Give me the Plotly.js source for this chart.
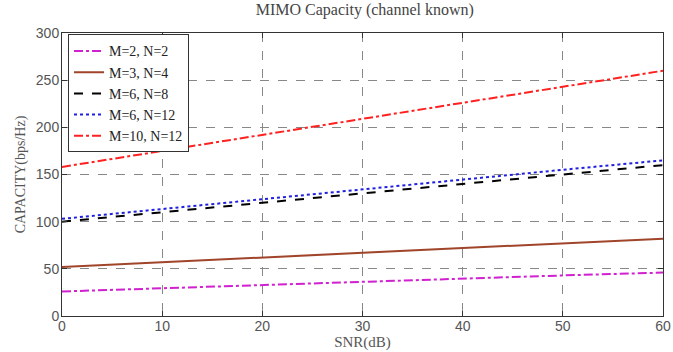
<!DOCTYPE html>
<html>
<head>
<meta charset="utf-8">
<script src="https://cdn.plot.ly/plotly-3.0.1.min.js"></script>
<style>html,body{margin:0;padding:0;background:#fff;}#chart{width:673px;height:352px;}</style>
</head>
<body>
<div id="chart"></div>
<script>
const snr = [0, 10, 20, 30, 40, 50, 60];
const seriesNames = ["M=2, N=2", "M=3, N=4", "M=6, N=8", "M=6, N=12", "M=10, N=12"];
const capM2N2 = [26, 29.5, 33, 36.5, 40, 43, 46];
const capM3N4 = [52, 57, 62, 67, 72, 77, 82];
const capM6N8 = [100, 110, 120, 130, 140, 150, 160];
const capM6N12 = [103, 113.5, 124, 134.5, 145, 155, 165];
const capM10N12 = [158, 175, 192, 209, 226, 243, 260];
const xTicks = [0, 10, 20, 30, 40, 50, 60];
const yTicks = [0, 50, 100, 150, 200, 250, 300];

const styles = [
  {color: "#d020d0", dash: "dashdot", width: 2},
  {color: "#a0442a", dash: "solid", width: 2},
  {color: "#000000", dash: "dash", width: 2},
  {color: "#2020e0", dash: "dot", width: 2},
  {color: "#ff2020", dash: "dashdot", width: 2}
];
const ys = [capM2N2, capM3N4, capM6N8, capM6N12, capM10N12];
const data = ys.map((y, i) => ({
  x: snr, y: y, name: seriesNames[i], type: "scatter", mode: "lines",
  line: styles[i]
}));

const serif = "Liberation Serif, Times New Roman, serif";
const axisCommon = {
  showline: true, mirror: "ticks", linecolor: "#333", linewidth: 1,
  ticks: "inside", ticklen: 5, tickcolor: "#333",
  showgrid: true, gridcolor: "#888", griddash: "dash", gridwidth: 1,
  zeroline: false, ticklabeloverflow: "allow",
  tickfont: {family: "Liberation Sans, Arial, sans-serif", size: 14, color: "#555"}
};

const layout = {
  width: 673, height: 352,
  margin: {l: 62, r: 10, t: 33, b: 36},
  paper_bgcolor: "#fff", plot_bgcolor: "#fff",
  title: {text: "MIMO Capacity (channel known)", x: 0.542, xanchor: "center", y: 0.99, yanchor: "top",
          font: {family: serif, size: 16, color: "#444"}},
  xaxis: Object.assign({}, axisCommon, {
    range: [0, 60], tickvals: xTicks, ticktext: xTicks.map(String), ticklabelstandoff: -3,
    title: {text: "SNR(dB)", standoff: 0, font: {family: serif, size: 15, color: "#555"}}
  }),
  yaxis: Object.assign({}, axisCommon, {
    range: [0, 300], tickvals: yTicks, ticktext: yTicks.map(String), ticklabelstandoff: -1,
    title: {text: "CAPACITY(bps/Hz)", standoff: 6, font: {family: serif, size: 14, color: "#555"}}
  }),
  showlegend: true,
  legend: {
    x: 0.01, y: 0.995, xanchor: "left", yanchor: "top",
    bgcolor: "#fff", bordercolor: "#333", borderwidth: 1,
    font: {family: serif, size: 14, color: "#222"},
    tracegroupgap: 0, itemwidth: 30
  }
};

Plotly.newPlot("chart", data, layout, {staticPlot: true, displayModeBar: false});
</script>
</body>
</html>
